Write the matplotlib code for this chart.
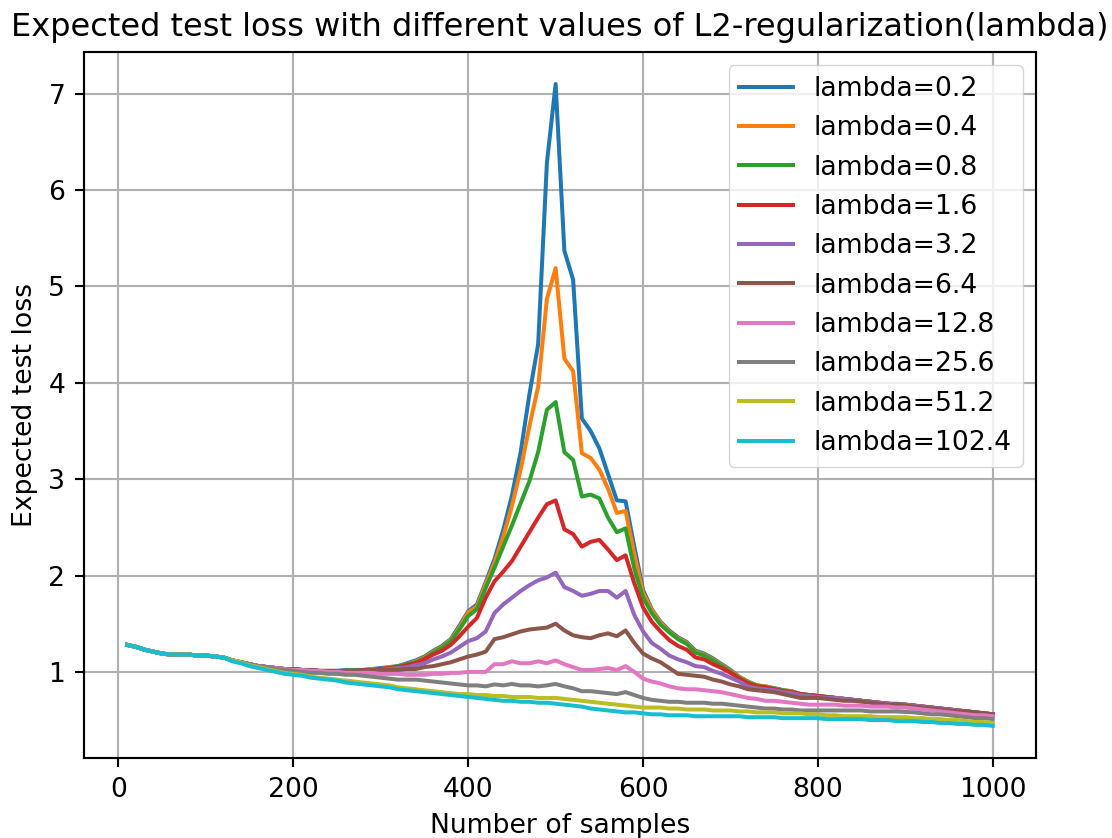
import matplotlib
matplotlib.use("Agg")
import matplotlib.pyplot as plt
import numpy as np

samples = list(range(10, 1001, 10))

lambdas = ["0.2", "0.4", "0.8", "1.6", "3.2", "6.4", "12.8", "25.6", "51.2", "102.4"]

# x = 10 .. 120 (shared by all curves)
start_vals = [1.28, 1.26, 1.23, 1.21, 1.19, 1.18, 1.18, 1.18, 1.17, 1.17, 1.16, 1.15]

# x = 130 .. 1000 per curve
loss_l0_2 = [1.12, 1.10, 1.08, 1.06, 1.05, 1.04, 1.03, 1.03, 1.02, 1.02, 1.01, 1.01, 1.01, 1.02, 1.02, 1.02, 1.03, 1.04,
             1.05, 1.06, 1.09, 1.12, 1.16, 1.22, 1.27, 1.34, 1.48, 1.63,
             1.70, 1.93, 2.17, 2.47, 2.83, 3.28, 3.88, 4.40, 6.28, 7.10,
             5.37, 5.07, 3.63, 3.50, 3.32, 3.05, 2.78, 2.77, 2.30, 1.85,
             1.65, 1.52, 1.43, 1.36, 1.31, 1.22, 1.19, 1.14, 1.08, 1.02,
             0.95, 0.90, 0.86, 0.85, 0.83, 0.81, 0.80, 0.77, 0.76, 0.75,
             0.74, 0.73, 0.72, 0.71, 0.70, 0.69, 0.68, 0.67, 0.67, 0.66,
             0.65, 0.64, 0.63, 0.62, 0.61, 0.60, 0.59, 0.58, 0.57, 0.56]

loss_l0_4 = [1.12, 1.10, 1.08, 1.06, 1.05, 1.04, 1.03, 1.02, 1.02, 1.02, 1.01, 1.01, 1.01, 1.01, 1.02, 1.02, 1.03, 1.03,
             1.05, 1.06, 1.08, 1.11, 1.15, 1.21, 1.26, 1.33, 1.46, 1.62,
             1.68, 1.91, 2.13, 2.40, 2.72, 3.10, 3.55, 3.96, 4.87, 5.19,
             4.25, 4.12, 3.27, 3.22, 3.10, 2.90, 2.65, 2.67, 2.22, 1.82,
             1.64, 1.51, 1.42, 1.35, 1.30, 1.21, 1.18, 1.13, 1.07, 1.01,
             0.95, 0.90, 0.86, 0.85, 0.83, 0.81, 0.80, 0.77, 0.76, 0.75,
             0.74, 0.73, 0.72, 0.71, 0.70, 0.69, 0.68, 0.67, 0.66, 0.66,
             0.65, 0.64, 0.63, 0.62, 0.61, 0.60, 0.59, 0.58, 0.57, 0.56]

loss_l0_8 = [1.12, 1.10, 1.08, 1.06, 1.05, 1.04, 1.03, 1.03, 1.02, 1.01, 1.01, 1.01, 1.01, 1.01, 1.02, 1.02, 1.02, 1.03,
             1.04, 1.06, 1.08, 1.10, 1.14, 1.20, 1.25, 1.32, 1.44, 1.58,
             1.65, 1.87, 2.08, 2.30, 2.52, 2.75, 2.98, 3.28, 3.72, 3.80,
             3.28, 3.20, 2.82, 2.84, 2.80, 2.60, 2.45, 2.49, 2.07, 1.77,
             1.61, 1.49, 1.41, 1.34, 1.29, 1.20, 1.17, 1.12, 1.06, 1.00,
             0.94, 0.89, 0.86, 0.84, 0.83, 0.81, 0.79, 0.77, 0.76, 0.75,
             0.74, 0.73, 0.72, 0.71, 0.70, 0.69, 0.68, 0.67, 0.66, 0.66,
             0.65, 0.64, 0.63, 0.62, 0.61, 0.60, 0.59, 0.58, 0.57, 0.56]

loss_l1_6 = [1.12, 1.10, 1.08, 1.06, 1.05, 1.04, 1.03, 1.02, 1.02, 1.02, 1.01, 1.01, 1.01, 1.01, 1.01, 1.02, 1.02, 1.03,
             1.04, 1.05, 1.07, 1.09, 1.13, 1.18, 1.22, 1.28, 1.37, 1.47,
             1.56, 1.77, 1.94, 2.04, 2.15, 2.30, 2.45, 2.60, 2.74, 2.78,
             2.48, 2.43, 2.30, 2.35, 2.37, 2.27, 2.16, 2.21, 1.92, 1.67,
             1.52, 1.42, 1.33, 1.27, 1.23, 1.15, 1.13, 1.08, 1.04, 0.99,
             0.93, 0.88, 0.85, 0.84, 0.82, 0.80, 0.79, 0.77, 0.76, 0.75,
             0.74, 0.73, 0.72, 0.71, 0.70, 0.69, 0.68, 0.67, 0.66, 0.66,
             0.65, 0.64, 0.63, 0.62, 0.61, 0.60, 0.59, 0.58, 0.57, 0.56]

loss_l3_2 = [1.12, 1.10, 1.08, 1.06, 1.05, 1.04, 1.03, 1.03, 1.02, 1.02, 1.01, 1.01, 1.01, 1.01, 1.01, 1.01, 1.02, 1.02,
             1.03, 1.04, 1.05, 1.07, 1.09, 1.13, 1.16, 1.20, 1.26, 1.32,
             1.35, 1.42, 1.61, 1.70, 1.77, 1.84, 1.90, 1.95, 1.98, 2.03,
             1.88, 1.84, 1.79, 1.81, 1.84, 1.84, 1.77, 1.84, 1.59, 1.42,
             1.30, 1.24, 1.17, 1.13, 1.10, 1.06, 1.05, 1.01, 0.98, 0.94,
             0.90, 0.85, 0.83, 0.82, 0.81, 0.79, 0.78, 0.76, 0.75, 0.74,
             0.73, 0.73, 0.72, 0.71, 0.70, 0.69, 0.68, 0.67, 0.66, 0.66,
             0.65, 0.64, 0.63, 0.62, 0.61, 0.60, 0.59, 0.58, 0.57, 0.56]

loss_l6_4 = [1.12, 1.10, 1.08, 1.06, 1.05, 1.04, 1.03, 1.03, 1.02, 1.02, 1.01, 1.01, 1.01, 1.01, 1.01, 1.02, 1.02, 1.02,
             1.02, 1.02, 1.03, 1.03, 1.05, 1.06, 1.08, 1.10, 1.13, 1.16,
             1.18, 1.21, 1.34, 1.36, 1.39, 1.42, 1.44, 1.45, 1.46, 1.50,
             1.43, 1.38, 1.36, 1.35, 1.38, 1.40, 1.37, 1.43, 1.30, 1.19,
             1.14, 1.10, 1.04, 0.98, 0.97, 0.96, 0.95, 0.92, 0.90, 0.87,
             0.85, 0.82, 0.81, 0.80, 0.79, 0.77, 0.75, 0.73, 0.73, 0.73,
             0.72, 0.71, 0.70, 0.70, 0.69, 0.68, 0.67, 0.66, 0.66, 0.65,
             0.64, 0.63, 0.62, 0.61, 0.60, 0.59, 0.59, 0.58, 0.57, 0.56]

loss_l12_8 = [1.12, 1.10, 1.08, 1.06, 1.05, 1.04, 1.03, 1.02, 1.02, 1.01, 1.01, 1.00, 1.00, 0.99, 0.99, 0.99, 0.99, 0.98,
              0.98, 0.98, 0.97, 0.97, 0.97, 0.98, 0.98, 0.99, 0.99, 1.00,
              1.00, 1.00, 1.08, 1.08, 1.11, 1.09, 1.09, 1.11, 1.09, 1.12,
              1.08, 1.05, 1.02, 1.02, 1.03, 1.04, 1.02, 1.06, 1.00, 0.93,
              0.90, 0.88, 0.85, 0.83, 0.82, 0.82, 0.81, 0.80, 0.79, 0.77,
              0.75, 0.73, 0.72, 0.70, 0.70, 0.69, 0.68, 0.67, 0.66, 0.66,
              0.66, 0.66, 0.65, 0.65, 0.65, 0.64, 0.64, 0.64, 0.63, 0.63,
              0.62, 0.61, 0.60, 0.59, 0.58, 0.57, 0.56, 0.55, 0.55, 0.54]

loss_l25_6 = [1.12, 1.10, 1.08, 1.06, 1.05, 1.03, 1.02, 1.01, 1.00, 0.99, 0.99, 0.98, 0.98, 0.97, 0.97, 0.96, 0.95, 0.94,
              0.93, 0.92, 0.92, 0.92, 0.91, 0.90, 0.89, 0.88, 0.87, 0.86,
              0.86, 0.85, 0.87, 0.86, 0.875, 0.86, 0.86, 0.85, 0.86, 0.875,
              0.85, 0.83, 0.80, 0.80, 0.79, 0.78, 0.77, 0.79, 0.76, 0.73,
              0.71, 0.70, 0.69, 0.69, 0.68, 0.68, 0.68, 0.67, 0.67, 0.66,
              0.65, 0.64, 0.63, 0.62, 0.62, 0.61, 0.61, 0.60, 0.60, 0.60,
              0.60, 0.60, 0.60, 0.60, 0.60, 0.59, 0.59, 0.59, 0.59, 0.585,
              0.58, 0.57, 0.56, 0.56, 0.55, 0.54, 0.53, 0.52, 0.52, 0.51]

loss_l51_2 = [1.12, 1.10, 1.07, 1.05, 1.03, 1.01, 0.99, 0.98, 0.97, 0.95, 0.94, 0.93, 0.92, 0.91, 0.90, 0.89, 0.88, 0.87,
              0.86, 0.84, 0.83, 0.82, 0.81, 0.80, 0.79, 0.78, 0.77, 0.77,
              0.76, 0.76, 0.75, 0.75, 0.74, 0.74, 0.74, 0.73, 0.73, 0.73,
              0.72, 0.71, 0.70, 0.69, 0.68, 0.67, 0.66, 0.65, 0.64, 0.63,
              0.63, 0.63, 0.62, 0.62, 0.61, 0.61, 0.61, 0.60, 0.60, 0.60,
              0.59, 0.59, 0.58, 0.58, 0.58, 0.57, 0.57, 0.57, 0.56, 0.56,
              0.55, 0.55, 0.54, 0.54, 0.54, 0.54, 0.53, 0.53, 0.53, 0.53,
              0.52, 0.52, 0.51, 0.51, 0.50, 0.50, 0.49, 0.48, 0.48, 0.47]

loss_l102_4 = [1.11, 1.09, 1.06, 1.04, 1.02, 1.00, 0.98, 0.97, 0.96, 0.94, 0.93, 0.92, 0.91, 0.89, 0.88, 0.87, 0.86, 0.85,
               0.84, 0.82, 0.81, 0.80, 0.79, 0.78, 0.77, 0.76, 0.75, 0.74,
               0.73, 0.72, 0.71, 0.70, 0.70, 0.69, 0.69, 0.68, 0.68, 0.67,
               0.66, 0.65, 0.64, 0.62, 0.61, 0.60, 0.59, 0.58, 0.58, 0.57,
               0.56, 0.56, 0.55, 0.55, 0.55, 0.54, 0.54, 0.54, 0.54, 0.54,
               0.54, 0.53, 0.53, 0.53, 0.53, 0.52, 0.52, 0.52, 0.52, 0.52,
               0.51, 0.51, 0.51, 0.51, 0.51, 0.50, 0.50, 0.50, 0.49, 0.49,
               0.49, 0.48, 0.48, 0.47, 0.47, 0.46, 0.46, 0.45, 0.45, 0.44]

series = [loss_l0_2, loss_l0_4, loss_l0_8, loss_l1_6, loss_l3_2,
          loss_l6_4, loss_l12_8, loss_l25_6, loss_l51_2, loss_l102_4]

S = 1.92  # scale relative to matplotlib defaults
plt.rcParams.update({
    "font.size": 10 * S,
    "axes.linewidth": 0.8 * S,
    "xtick.major.width": 0.8 * S,
    "ytick.major.width": 0.8 * S,
    "xtick.major.size": 3.5 * S,
    "ytick.major.size": 3.5 * S,
    "xtick.major.pad": 3.5 * S,
    "ytick.major.pad": 3.5 * S,
    "grid.linewidth": 0.8 * S,
    "lines.linewidth": 1.5 * S,
    "legend.fontsize": 10 * S,
})

fig = plt.figure(figsize=(11.12, 8.38), dpi=100)
ax = fig.add_axes([0.0755, 0.0955, 0.8562, 0.8425])

for lam, vals in zip(lambdas, series):
    ax.plot(samples, start_vals + vals, label=f"lambda={lam}")

ax.grid(True)
ax.set_xticks([0, 200, 400, 600, 800, 1000])
ax.set_title("Expected test loss with different values of L2-regularization(lambda)",
             fontsize=12 * S, pad=6 * S)
ax.set_xlabel("Number of samples", labelpad=4 * S)
ax.set_ylabel("Expected test loss", labelpad=4 * S)
ax.legend(loc="upper right", borderaxespad=0.5, handlelength=2.0)

fig.savefig("out.png", dpi=100)
